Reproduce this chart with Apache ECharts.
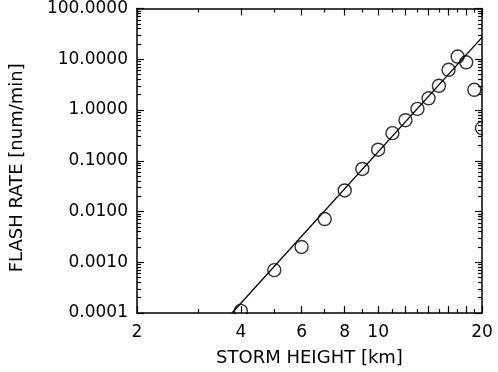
<!DOCTYPE html>
<html>
<head>
<meta charset="utf-8">
<script src="https://cdn.jsdelivr.net/npm/echarts@6/dist/echarts.min.js"></script>
<style>html,body{margin:0;padding:0;background:#fff;}#c{width:498px;height:372px;}</style>
</head>
<body>
<div id="c"></div>
<script>
// Data
const heights = [4, 5, 6, 7, 8, 9, 10, 11, 12, 13, 14, 15, 16, 17, 18, 19, 20];
const flashRates = [0.00011, 0.0007, 0.002, 0.0071, 0.026, 0.069, 0.165, 0.35, 0.63, 1.05, 1.7, 3.0, 6.2, 11.3, 8.7, 2.5, 0.44];
const fitHeights = [3.77, 20];
const fitRates = [0.0001, 27];

// Axis ticks and labels
const xMajorTicks = [2, 4, 6, 8, 10, 12, 14, 16, 18, 20];
const xMinorTicks = [3, 5, 7, 9, 11, 13, 15, 17, 19];
const xLabels = [2, 4, 6, 8, 10, 20];
const yMajorTicks = [0.0001, 0.001, 0.01, 0.1, 1, 10, 100];
const yMinorMultipliers = [2, 3, 4, 5, 6, 7, 8, 9];
const yMinorTicks = [];
yMajorTicks.slice(0, -1).forEach(d => yMinorMultipliers.forEach(m => yMinorTicks.push(+(d * m).toPrecision(3))));

const xTitle = 'STORM HEIGHT [km]';
const yTitle = 'FLASH RATE [num/min]';

const X_MIN = 2, X_MAX = 20, Y_MIN = 0.0001, Y_MAX = 100;
const FONT = 'DejaVu Sans';
const black = '#000';
const lg = Math.log10;

function logAxis(min, max, pos, extra) {
  return Object.assign({
    type: 'log', logBase: 10, min: min, max: max, position: pos, z: 10,
    axisLine: { show: true, onZero: false, lineStyle: { color: black, width: 1.5 } },
    axisTick: { show: false },
    axisLabel: { show: false },
    splitLine: { show: false }
  }, extra || {});
}

// Tick helper axes in log10 space (same mapping as the log axes), shifted inward
// by the tick length so that their outward ticks point into the plot.
function tickAxis(lo, hi, pos, ticks, len) {
  return {
    type: 'value', min: lg(lo), max: lg(hi), position: pos, offset: -len, z: 10,
    axisLine: { show: true, onZero: false, lineStyle: { color: 'rgba(0,0,0,0)', width: 1 } },
    axisTick: { show: true, inside: false, length: len, customValues: ticks.map(lg), lineStyle: { color: black, width: 1.2 } },
    axisLabel: { show: false },
    splitLine: { show: false }
  };
}

const chart = echarts.init(document.getElementById('c'));
chart.setOption({
  animation: false,
  grid: { left: 137, right: 16, top: 8, bottom: 59 },
  xAxis: [
    logAxis(X_MIN, X_MAX, 'bottom', {
      axisLabel: { show: true, customValues: xLabels, margin: 11, color: black, fontFamily: FONT, fontSize: 17, formatter: v => String(Math.round(v)) },
      name: xTitle, nameLocation: 'middle', nameGap: 36,
      nameTextStyle: { color: black, fontFamily: FONT, fontSize: 18 }
    }),
    logAxis(X_MIN, X_MAX, 'top'),
    tickAxis(X_MIN, X_MAX, 'bottom', xMajorTicks, 7),
    tickAxis(X_MIN, X_MAX, 'bottom', xMinorTicks, 4),
    tickAxis(X_MIN, X_MAX, 'top', xMajorTicks, 7),
    tickAxis(X_MIN, X_MAX, 'top', xMinorTicks, 4)
  ],
  yAxis: [
    logAxis(Y_MIN, Y_MAX, 'left', {
      axisLabel: { show: true, customValues: yMajorTicks, margin: 9, color: black, fontFamily: FONT, fontSize: 17, formatter: v => Number(v).toFixed(4) },
      name: yTitle, nameLocation: 'middle', nameGap: 111, nameRotate: 90,
      nameTextStyle: { color: black, fontFamily: FONT, fontSize: 18, padding: [0, 14, 0, 0] }
    }),
    logAxis(Y_MIN, Y_MAX, 'right'),
    tickAxis(Y_MIN, Y_MAX, 'left', yMajorTicks, 7),
    tickAxis(Y_MIN, Y_MAX, 'left', yMinorTicks, 4),
    tickAxis(Y_MIN, Y_MAX, 'right', yMajorTicks, 7),
    tickAxis(Y_MIN, Y_MAX, 'right', yMinorTicks, 4)
  ],
  graphic: [
    { type: 'rect', z: 5, silent: true, shape: { x: 483, y: 0, width: 15, height: 372 }, style: { fill: '#fff' } },
    { type: 'rect', z: 5, silent: true, shape: { x: 0, y: 314, width: 498, height: 58 }, style: { fill: '#fff' } }
  ],
  series: [
    {
      type: 'line', xAxisIndex: 0, yAxisIndex: 0,
      data: fitHeights.map((h, i) => [h, fitRates[i]]),
      showSymbol: false, symbol: 'none',
      lineStyle: { color: black, width: 1.3 }, z: 2
    },
    {
      type: 'scatter', xAxisIndex: 0, yAxisIndex: 0,
      data: heights.map((h, i) => [h, flashRates[i]]),
      symbol: 'circle', symbolSize: 13, clip: false,
      itemStyle: { color: 'rgba(0,0,0,0)', borderColor: black, borderWidth: 1.4 }, z: 3
    }
  ]
});
</script>
</body>
</html>
